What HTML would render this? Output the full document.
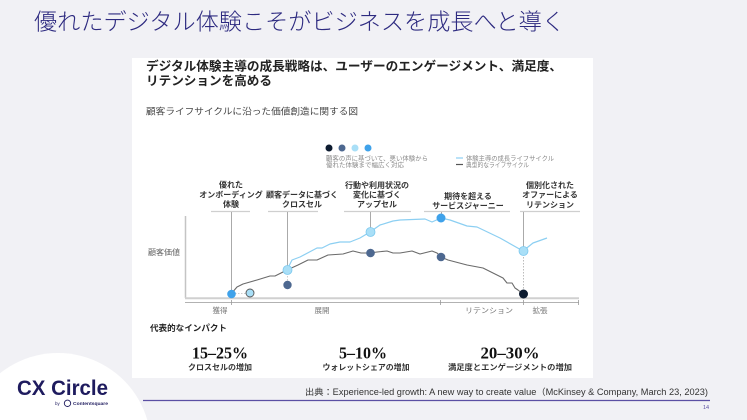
<!DOCTYPE html>
<html><head><meta charset="utf-8">
<style>
html,body{margin:0;padding:0;background:#f1f1f5;width:747px;height:420px;overflow:hidden;}
svg{display:block;}
text{font-family:"Liberation Sans","Noto Sans CJK JP",sans-serif;}
.lbl{font-size:8px;font-weight:bold;fill:#333;text-anchor:middle;}
.ax{font-size:7.5px;fill:#777;text-anchor:middle;}
.lg{font-size:6.3px;fill:#888;}
</style></head>
<body>
<svg width="747" height="420" viewBox="0 0 747 420" xmlns="http://www.w3.org/2000/svg">
<rect x="0" y="0" width="747" height="420" fill="#f1f1f5"/>
<path d="M0,420 L0,373.3 A93,93 0 0 1 147.3,420 Z" fill="#ffffff"/>
<text x="34" y="29.5" font-size="23" font-weight="300" fill="#2d2a80" textLength="531" lengthAdjust="spacingAndGlyphs">優れたデジタル体験こそがビジネスを成長へと導く</text>

<rect x="132" y="58" width="461" height="320" fill="#ffffff"/>
<text x="146" y="70.5" font-size="12.5" font-weight="bold" fill="#222" textLength="416" lengthAdjust="spacingAndGlyphs">デジタル体験主導の成長戦略は、ユーザーのエンゲージメント、満足度、</text>
<text x="146" y="85" font-size="12.5" font-weight="bold" fill="#222" textLength="126" lengthAdjust="spacingAndGlyphs">リテンションを高める</text>
<text x="146" y="114.5" font-size="9" fill="#444" textLength="212" lengthAdjust="spacingAndGlyphs">顧客ライフサイクルに沿った価値創造に関する図</text>

<!-- legend -->
<circle cx="329" cy="148" r="3.5" fill="#0d1b30"/>
<circle cx="342" cy="148" r="3.5" fill="#4d6890"/>
<circle cx="355" cy="148" r="3.5" fill="#a9dff7"/>
<circle cx="368" cy="148" r="3.5" fill="#3fa2ea"/>
<text class="lg" x="326" y="160.3" textLength="102" lengthAdjust="spacingAndGlyphs">顧客の声に基づいて、悪い体験から</text>
<text class="lg" x="326" y="167" textLength="78" lengthAdjust="spacingAndGlyphs">優れた体験まで幅広く対応</text>
<line x1="456" y1="158" x2="463" y2="158" stroke="#8ccff2" stroke-width="1.2"/>
<text class="lg" x="466" y="160.3" textLength="88" lengthAdjust="spacingAndGlyphs">体験主導の成長ライフサイクル</text>
<line x1="456" y1="164.5" x2="463" y2="164.5" stroke="#555" stroke-width="1.2"/>
<text class="lg" x="466" y="167" textLength="63" lengthAdjust="spacingAndGlyphs">典型的なライフサイクル</text>

<!-- labels -->
<text class="lbl" x="231" y="187.5">優れた</text>
<text class="lbl" x="231" y="197.5">オンボーディング</text>
<text class="lbl" x="231" y="207">体験</text>
<text class="lbl" x="302" y="197.5">顧客データに基づく</text>
<text class="lbl" x="302" y="207">クロスセル</text>
<text class="lbl" x="377" y="188">行動や利用状況の</text>
<text class="lbl" x="377" y="197.5">変化に基づく</text>
<text class="lbl" x="377" y="207">アップセル</text>
<text class="lbl" x="468" y="199">期待を超える</text>
<text class="lbl" x="468" y="208.5">サービスジャーニー</text>
<text class="lbl" x="550" y="188">個別化された</text>
<text class="lbl" x="550" y="197.5">オファーによる</text>
<text class="lbl" x="550" y="207.5">リテンション</text>

<!-- underlines -->
<g stroke="#cfcfcf" stroke-width="1.2">
<line x1="211" y1="211.5" x2="250" y2="211.5"/>
<line x1="268" y1="211.5" x2="318" y2="211.5"/>
<line x1="344" y1="211.5" x2="411" y2="211.5"/>
<line x1="424" y1="211.5" x2="510" y2="211.5"/>
<line x1="520" y1="211.5" x2="580" y2="211.5"/>
</g>
<!-- connectors -->
<g stroke="#aaaaaa" stroke-width="1">
<line x1="231.5" y1="212" x2="231.5" y2="294"/>
<line x1="287.5" y1="212" x2="287.5" y2="270"/>
<line x1="370.5" y1="212" x2="370.5" y2="232"/>
<line x1="441.5" y1="212" x2="441.5" y2="218"/>
<line x1="523.5" y1="212" x2="523.5" y2="251"/>
</g>
<line x1="523.5" y1="251" x2="523.5" y2="294" stroke="#bbb" stroke-width="1" stroke-dasharray="1.5,1.5"/>
<line x1="287.5" y1="270" x2="287.5" y2="285" stroke="#ccc" stroke-width="1" stroke-dasharray="1.5,1.5"/>
<line x1="232" y1="293.5" x2="250" y2="293.5" stroke="#ccc" stroke-width="1" stroke-dasharray="1.5,1.5"/>

<!-- y axis label -->
<text x="148" y="255" font-size="8" fill="#666" textLength="32" lengthAdjust="spacingAndGlyphs">顧客価値</text>

<!-- axes -->
<line x1="185.5" y1="216" x2="185.5" y2="298" stroke="#c4c4c4" stroke-width="1.5"/>
<line x1="185" y1="298.3" x2="579" y2="298.3" stroke="#d0d0d0" stroke-width="2"/>
<line x1="185" y1="302.5" x2="579" y2="302.5" stroke="#999" stroke-width="0.8"/>
<g stroke="#999" stroke-width="0.8">
<line x1="231.5" y1="300" x2="231.5" y2="305"/>
<line x1="440.5" y1="300" x2="440.5" y2="305"/>
<line x1="523.5" y1="300" x2="523.5" y2="305"/>
<line x1="578.5" y1="300" x2="578.5" y2="305"/>
</g>
<text class="ax" x="220" y="313">獲得</text>
<text class="ax" x="322" y="313">展開</text>
<text class="ax" x="489" y="313" textLength="48" lengthAdjust="spacingAndGlyphs">リテンション</text>
<text class="ax" x="540" y="313">拡張</text>

<!-- series -->
<polyline fill="none" stroke="#6a6a6a" stroke-width="1.1" stroke-linejoin="round" points="231,294 237,287 243,284 257,280 270,276 275,276 287,270 298,265 308,260 317,260 328,255 343,254 353,251 361,253 370,253 377,252 387,251 393,253 400,253 412,251 420,254 432,251 437,253 441,257 448,260 467,265 483,268 493,273 503,278 507,283 512,283 515,288 518,290 523,294"/>
<polyline fill="none" stroke="#8ccff2" stroke-width="1.2" stroke-linejoin="round" points="287,270 292,260 300,257 317,248 322,248 330,244 340,242 350,242 360,238 370,232 380,225 393,221 400,220 425,219 432,222 441,218 450,220 467,226 477,227 500,238 523,251 533,243 547,238"/>

<!-- dots -->
<circle cx="231.5" cy="294" r="4.3" fill="#3fa2ea"/>
<circle cx="250" cy="293" r="4" fill="#a9dff7" stroke="#555" stroke-width="0.9"/>
<circle cx="287.5" cy="285" r="4.2" fill="#4d6890"/>
<circle cx="287.5" cy="270" r="4.5" fill="#a9dff7" stroke="#7cc8ee" stroke-width="0.8"/>
<circle cx="370.5" cy="253" r="4.3" fill="#4d6890"/>
<circle cx="370.5" cy="232" r="4.5" fill="#a9dff7" stroke="#7cc8ee" stroke-width="0.8"/>
<circle cx="441" cy="257" r="4.3" fill="#4d6890"/>
<circle cx="441" cy="218" r="4.5" fill="#3fa2ea"/>
<circle cx="523.5" cy="251" r="4.5" fill="#a9dff7" stroke="#7cc8ee" stroke-width="0.8"/>
<circle cx="523.5" cy="294" r="4.5" fill="#0d1b30"/>

<!-- impact -->
<text x="150" y="331" font-size="8.5" font-weight="bold" fill="#222" textLength="77" lengthAdjust="spacingAndGlyphs">代表的なインパクト</text>
<text x="220" y="358.5" font-size="17" font-weight="bold" fill="#111" text-anchor="middle" style="font-family:'Liberation Serif',serif" textLength="56" lengthAdjust="spacingAndGlyphs">15–25%</text>
<text x="363" y="358.5" font-size="17" font-weight="bold" fill="#111" text-anchor="middle" style="font-family:'Liberation Serif',serif" textLength="48" lengthAdjust="spacingAndGlyphs">5–10%</text>
<text x="510" y="358.5" font-size="17" font-weight="bold" fill="#111" text-anchor="middle" style="font-family:'Liberation Serif',serif" textLength="59" lengthAdjust="spacingAndGlyphs">20–30%</text>
<text class="lbl" x="220" y="370">クロスセルの増加</text>
<text class="lbl" x="366" y="370" textLength="87" lengthAdjust="spacingAndGlyphs">ウォレットシェアの増加</text>
<text class="lbl" x="510" y="370" textLength="124" lengthAdjust="spacingAndGlyphs">満足度とエンゲージメントの増加</text>

<!-- footer -->
<text x="305" y="395" font-size="8.8" fill="#333" textLength="403" lengthAdjust="spacingAndGlyphs">出典：Experience-led growth: A new way to create value（McKinsey &amp; Company, March 23, 2023)</text>
<line x1="143" y1="400.5" x2="710" y2="400.5" stroke="#5a4fa3" stroke-width="1.2"/>
<text x="703" y="409" font-size="5.5" fill="#5a4fa3">14</text>

<!-- logo -->
<text x="17" y="395" font-size="21" font-weight="bold" fill="#1e1b5e" textLength="91" lengthAdjust="spacingAndGlyphs">CX Circle</text>
<text x="55" y="405" font-size="4.5" fill="#1e1b5e">by</text>
<circle cx="67.5" cy="403.3" r="3.2" fill="none" stroke="#1e1b5e" stroke-width="0.9"/>
<text x="73" y="405" font-size="4.5" font-weight="bold" fill="#1e1b5e" textLength="35" lengthAdjust="spacingAndGlyphs">Contentsquare</text>
</svg>
</body></html>
